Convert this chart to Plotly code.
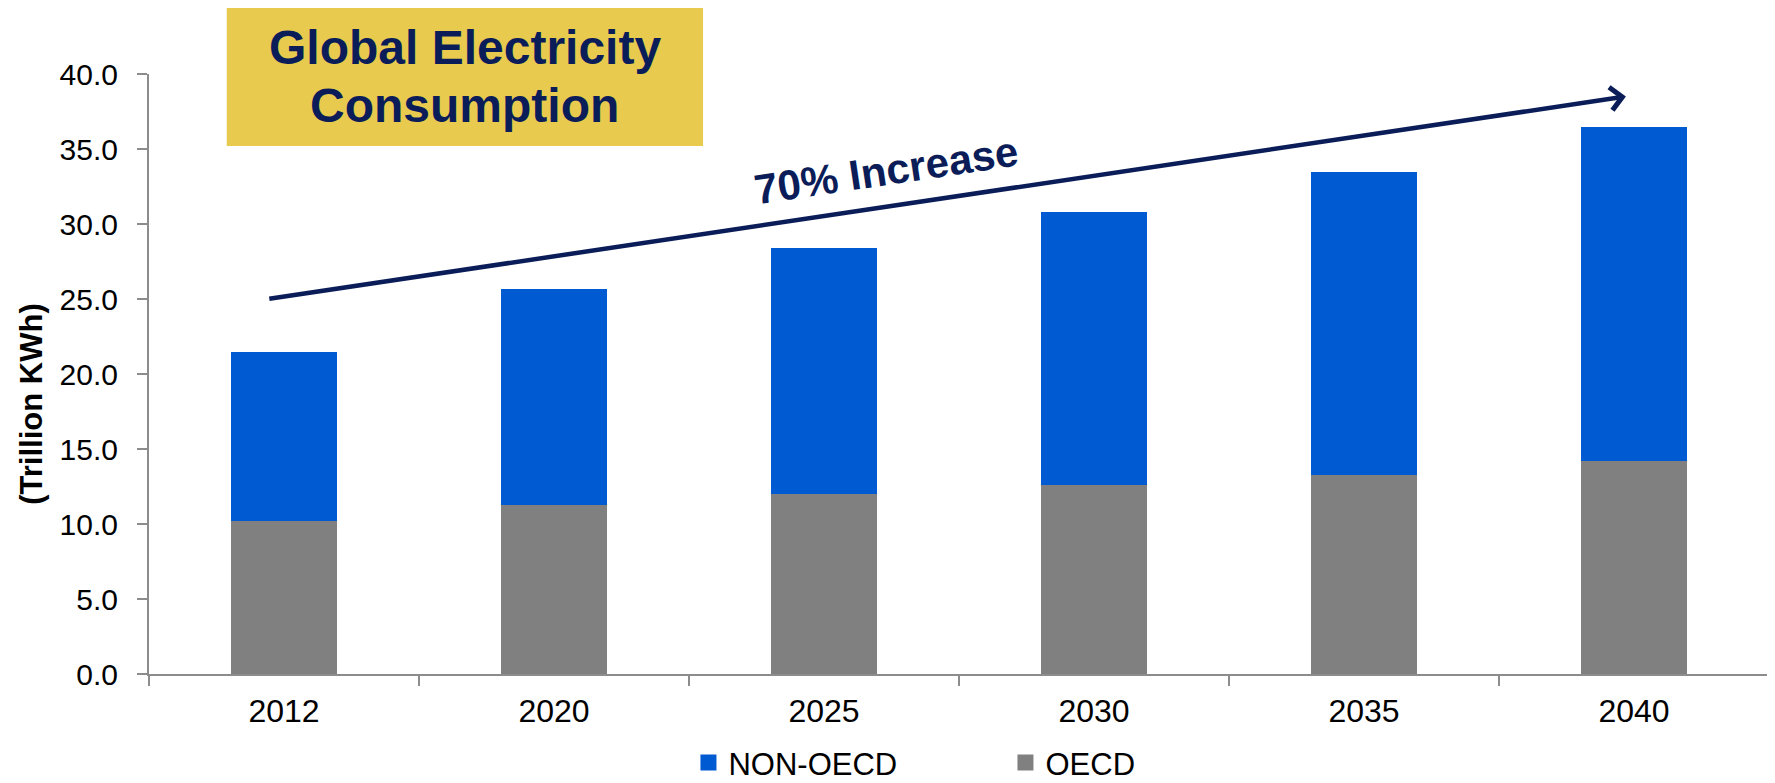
import plotly.graph_objects as go

years = ["2012", "2020", "2025", "2030", "2035", "2040"]
oecd = [10.2, 11.3, 12.0, 12.6, 13.3, 14.2]
non_oecd = [11.3, 14.4, 16.4, 18.2, 20.2, 22.3]
y_ticks = [0, 5, 10, 15, 20, 25, 30, 35, 40]

FONT = "Liberation Sans, Arial, sans-serif"
NAVY = "#0B1D58"
AXIS = "#8C8C8C"
BLUE = "#005AD2"
GRAY = "#808080"

fig = go.Figure()
fig.add_trace(go.Bar(x=years, y=oecd, name="OECD", marker=dict(color=GRAY, line=dict(width=0)), showlegend=False))
fig.add_trace(go.Bar(x=years, y=non_oecd, name="NON-OECD", marker=dict(color=BLUE, line=dict(width=0)), showlegend=False))
# legend entries (square swatches)
fig.add_trace(go.Scatter(x=[None], y=[None], mode="markers", name="NON-OECD",
                         marker=dict(symbol="square", size=16, color=BLUE)))
fig.add_trace(go.Scatter(x=[None], y=[None], mode="markers", name="OECD",
                         marker=dict(symbol="square", size=16, color=GRAY)))

# page body has an 8px default margin, so the figure is sized to fit the window
fig.update_layout(
    width=1767, height=775,
    barmode="stack", bargap=0.607,
    plot_bgcolor="white", paper_bgcolor="white",
    margin=dict(l=141, r=6, t=66, b=109),
    font=dict(family=FONT, size=32, color="black"),
    showlegend=True,
    legend=dict(orientation="h", traceorder="normal", x=0.333, xanchor="left",
                yref="container", y=0.026, yanchor="middle", font=dict(size=31), entrywidth=272,
                bgcolor="rgba(0,0,0,0)", itemsizing="trace"),
)
fig.update_xaxes(
    type="category", showline=True, linecolor=AXIS, linewidth=2,
    ticks="outside", tickson="boundaries", ticklen=10, tickcolor=AXIS, tickwidth=2,
    showgrid=False, tickfont=dict(size=32), ticklabelstandoff=8,
)
fig.update_yaxes(
    range=[0, 40], tickvals=y_ticks, tickformat=".1f", showline=True, linecolor=AXIS, linewidth=2,
    ticks="outside", ticklen=10, tickcolor=AXIS, tickwidth=2, showgrid=False, zeroline=False,
    tickfont=dict(size=30), ticklabelstandoff=13,
)

# title box
fig.add_shape(type="rect", xref="paper", yref="paper", x0=0.048, x1=0.342, y0=0.88, y1=1.112,
              fillcolor="#E8CB4E", line=dict(width=0), layer="above")
fig.add_annotation(xref="paper", yref="paper", x=0.195, y=1.045, text="<b>Global Electricity</b>",
                   showarrow=False, font=dict(size=48, color=NAVY, family=FONT), xanchor="center", yanchor="middle")
fig.add_annotation(xref="paper", yref="paper", x=0.195, y=0.948, text="<b>Consumption</b>",
                   showarrow=False, font=dict(size=48, color=NAVY, family=FONT), xanchor="center", yanchor="middle")

# arrow
fig.add_annotation(x=4.97, y=38.5, xref="x", yref="y", ax=-0.06, ay=25.0, axref="x", ayref="y",
                   text="", showarrow=True, arrowhead=4, arrowsize=1.0, arrowwidth=4.5, arrowcolor=NAVY)
fig.add_annotation(x=2.23, y=33.6, xref="x", yref="y", text="<b>70% Increase</b>", showarrow=False,
                   textangle=-8.5, font=dict(size=42, color=NAVY, family=FONT))

# y axis title
fig.add_annotation(xref="paper", yref="paper", x=-0.073, y=0.45, text="<b>(Trillion KWh)</b>",
                   showarrow=False, textangle=-90, xanchor="center", yanchor="middle",
                   font=dict(size=31, color="black", family=FONT))

fig.write_html("out.html")
